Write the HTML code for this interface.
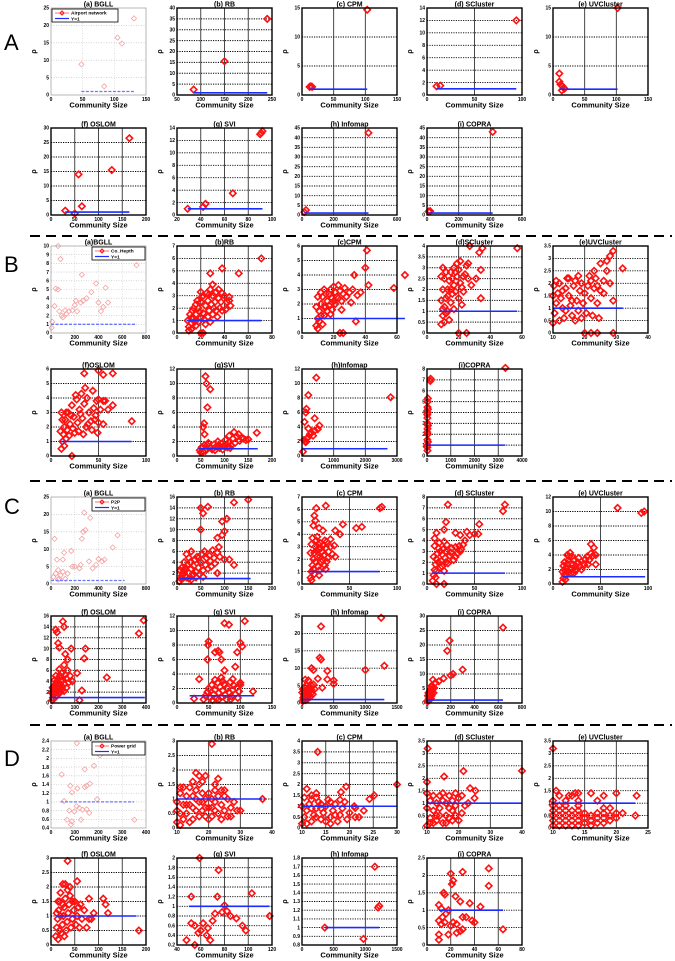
<!DOCTYPE html>
<html><head><meta charset="utf-8"><style>
html,body{margin:0;padding:0;background:#fff;}
svg{display:block;font-family:"Liberation Sans",sans-serif;}
</style></head><body>
<svg id="fig" width="675" height="961" viewBox="0 0 675 961"></svg>
<script>
// ---------- data: titles ----------
const titlesA = ["(a) BGLL","(b) RB","(c) CPM","(d) SCluster","(e) UVCluster","(f) OSLOM","(g) SVI","(h) Infomap","(i) COPRA"];
const titlesB = ["(a)BGLL","(b)RB","(c)CPM","(d)SCluster","(e)UVCluster","(f)OSLOM","(g)SVI","(h)Infomap","(i)COPRA"];
const legendNames = ["Airport network","Co_Hepth","P2P","Power grid"];
// ---------- data: points (x,y pairs) ----------
const pA1=[48,8.8,84,2.5,105,16.5,112,14.8,131,22];
const pA2=[85,2.5,150,15.5,240,35];
const pA3=[12,1.4,14,1.5,16,1.4,103,14.7];
const pA4=[10,1.4,14,1.5,94,12];
const pA5=[10,3.7,10,2.3,12,1.8,15,1.5,17,1.2,14,0.8,18,1.1,102,15];
const pA6=[30,1.5,50,0.5,58,14,65,3,128,15.5,165,26.5];
const pA7=[29,1,42,1.3,44,1.8,67,3.5,90,13,91,13.2,92,13.5];
const pA8=[15,1.5,25,2.5,420,42.5];
const pA9=[10,1.8,20,2,415,43];
const pB1=[10,1.3,5,0.6,60,10,80,8.5,40,5.1,60,5,30,3.1,70,2.5,90,2,100,1.8,120,2.6,150,2.5,180,2.6,200,3.2,210,3.7,250,3.5,260,6.7,270,3.7,300,4,340,4.7,380,5.7,400,3.5,420,2.5,440,3,460,5.2,480,3.5,720,7.8,130,2.2,220,2.5];
const pB2=[10,0.5,12,0.8,14,1.2,16,1.5,18,2,20,2.5,22,3,25,3.2,28,3.5,30,3,32,2.5,35,2.8,38,3.2,40,3,42,2.5,45,2.2,36,2,33,1.8,30,1.5,27,1.8,24,2.2,22,1.6,20,1.2,18,0.9,16,0.6,12,0.3,14,2,17,2.6,20,3.3,26,2.6,29,2.3,31,2,34,1.3,38,1.8,44,2.6,9,1,11,1.5,13,1.8,15,0.9,19,1.7,23,1.1,26,1.3,28,0.9,24,0.7,10,0.2,12,1.2,16,2.3,21,2.9,27,3.1,33,3.3,37,2.5,41,1.9,38,5.2,28,4.8,52,4.8,71,6,30,3.9,35,3.5,44,2.9,20,0,22,0];
const pB3=[9,0.5,10,1,11,1.5,12,2,13,2.5,14,1.2,15,1.8,16,2.2,17,2.7,18,3,19,2.4,20,3.2,21,2.8,22,2.5,23,3.3,24,2.9,25,2.2,26,2.7,27,3.1,28,2.5,30,2.8,9,1.8,10,2.5,11,0.8,12,1.2,13,0.6,14,1.8,15,2.7,16,1.5,17,1.9,19,1.6,21,2,10,0.3,12,2.8,14,3,18,1.3,20,2.2,23,2.4,25,1.6,31,2.1,32,3,35,2.6,37,2.8,41,5.7,40,4.5,42,3.3,33,4,58,3.1,65,4,34,0.8,24,0,26,0];
const pB4=[9,0.4,10,0.8,11,1.2,12,1.6,13,2,14,2.4,15,2.8,16,2.5,17,2.2,18,1.9,19,2.6,20,2.9,21,2.3,22,2.1,23,2.6,24,2.7,25,3.1,9,1.5,10,2,11,2.5,12,2.8,13,1,14,0.6,15,1.4,16,1.8,17,1.1,18,2.8,20,1.6,22,1.3,9,2.6,10,3,11,0.5,12,0.9,13,1.7,15,2,17,3,19,3.2,21,3.3,23,1.9,26,2.5,28,2.2,10,1.1,27,4,35,3.9,57,3.9,33,3.7,26,3.2,34,2.9,31,2.5,34,1.6,20,0,25,0];
const pB5=[10,0.4,10.5,0.8,11,1.2,11.5,1.6,12,2,12.5,1.4,13,1,13.5,0.6,14,1.8,14.5,2.2,15,1.5,15.5,1.1,16,0.7,16.5,1.9,17,2.1,17.5,1.3,18,0.9,18.5,1.7,19,2,19.5,1.2,20,1.6,20.5,0.8,21,1.9,21.5,2.3,22,1.4,22.5,0.7,23,1.8,23.5,2.2,24,1.2,10,1.5,11,2.1,12,0.5,13,1.7,14,0.9,15,2.2,16,1.3,17,0.5,18,2.3,19,0.6,10.3,1.9,25,1.7,26,2.1,24.5,0.6,29,3.3,28,3.1,25,2.8,27,2.9,32,2.6,27,2.5,23,2.5,28,2,24,1.9,26,1.6,29,1.3,22,2.1,20,0,22,0,24,0,29,0];
const pB6=[11,0.5,12,1,13,1.5,14,2,15,2.5,16,1.2,17,1.8,18,3,20,2.2,22,3.5,24,2.7,25,1.6,27,3.9,28,2.3,30,3.2,32,4.3,33,2.6,35,3.6,37,2,38,4,40,3,42,2.4,44,4.5,45,3.3,47,2.8,48,3.8,50,3.9,12,2.5,14,0.7,16,3,19,1.4,21,2.8,23,1.9,26,4.2,29,1.7,31,2.9,34,1.5,36,4.7,39,2.2,43,1.8,46,2.5,49,1.6,52,3.2,55,3.8,10,1.7,11,3,35,5.7,50,5.9,55,5.6,65,5.7,57,3.8,65,3.5,60,3.2,85,2.4,50,2.3,55,2.2,22,0];
const pB7=[48,0.8,52,1.2,55,0.6,58,1.5,62,1,66,1.8,70,1.2,74,0.9,78,1.6,82,1.3,86,2,90,1.1,94,1.7,98,1.4,102,2.2,106,1.2,110,1.9,114,1.5,118,2.4,122,1.8,126,2.7,132,2.1,136,2.5,145,2.2,50,0.5,60,0.7,64,1.5,80,0.8,88,1.5,96,0.9,104,1.6,112,1.1,60,11,62,10,70,9.2,64,6.7,57,4.5,55,4,58,3,130,3,168,3.2,120,3.3,110,2.8,140,2.4,150,2.3];
const pB8=[30,0.6,100,2,150,2.4,200,2.6,250,3,300,3.2,400,3.5,500,3.7,80,4.7,120,6,140,6.5,200,8.4,400,5.2,450,10.8,550,4.2,2800,8.1,350,2.8,200,3.8,60,2.2,120,1.9];
const pB9=[20,0.5,25,1,15,1.5,30,2,20,2.5,25,3,15,3.5,30,4,20,4.5,25,5,35,5.3,10,0.8,40,1.3,10,2.2,40,2.8,10,3.8,40,4.3,150,7.1,140,6.9,3300,8.1];
const pC1=[20,2,40,3,60,4,80,2.5,100,3.5,120,1.5,30,13,50,7,100,7,110,9,170,9.5,180,5,200,5,250,5.5,260,13,270,15,290,15.5,320,6.5,350,4.5,380,5.5,400,7.2,430,6.5,450,7,520,10.5,560,14,280,20.5,330,19,400,23,140,3,70,1.5,240,4.5,60,1.3];
const pC2=[5,0.5,8,1,10,1.5,12,2,15,2.5,18,3,20,1.2,22,3.5,25,2,28,4,30,2.8,32,1.5,35,3.3,38,4.5,40,2.2,42,5,45,3,48,1.8,50,4,52,5.5,55,2.5,58,6,60,3.5,62,4.8,65,2.8,68,5.2,70,4.2,72,3.2,75,6.2,78,4.8,80,3.8,10,3,15,4,20,5.5,25,4.8,30,6,35,1.8,40,1.2,45,4.8,55,1.3,85,5.8,88,6.8,7,2.5,12,1,18,1.5,25,1,30,0.8,50,14,55,13,65,14.2,95,11.5,105,12,120,15,150,15.5,100,9.7,50,10,85,8.5,95,9,90,5,100,4.5,110,4.5,85,2,120,3.5];
const pC3=[9,0.5,10,1,11,1.5,12,2,13,2.5,14,3,15,3.5,16,2.2,17,1.4,18,2.8,19,3.3,20,1.8,21,2.6,22,3.1,23,2.3,24,1.5,25,2.9,26,3.4,27,2.1,28,2.6,30,3,32,2.4,34,3.1,9,2.5,10,3.2,11,3.7,12,1.2,13,0.8,14,1.8,15,2.7,16,3.8,17,3.2,18,1.1,19,2.2,20,2.9,22,1.9,24,3.5,26,1.8,10,0.3,15,6.1,25,6.3,13,5.5,14,5.1,18,4.5,12,4.7,22,4.3,35,4.3,40,4,43,4.8,57,4.5,63,4.6,82,6.1,84,6.2,30,3.6,35,2.2,25,1.2,18,0.7];
const pC4=[6,0.3,7,0.8,8,1.3,9,1.8,10,2.3,11,2.8,12,3.3,13,3.8,14,1.5,15,2.1,16,2.7,17,3.2,18,1.2,19,2.4,20,3,21,3.6,22,1.9,24,2.6,26,3.3,28,2.2,30,3.4,32,2.8,34,3.5,36,3.2,38,3.6,40,4,7,2.5,8,3.5,9,0.6,10,1.2,12,2,14,3,16,1.6,18,3.9,20,2,25,2.9,30,2.5,35,3,42,4.8,45,4.5,8,4.2,22,7.3,55,5.5,80,6.7,82,7.3,54,4.6,50,4.6,18,5,20,5.7,10,4.7,35,4.5,30,4.7,10,0,18,0];
const pC5=[10,0.3,11,0.8,12,1.3,13,1.8,14,2.3,15,2.8,16,3.3,17,3.8,18,4.3,19,1.5,20,2.1,21,2.7,22,3.2,23,1.9,24,2.5,26,3,28,2.4,30,3.1,32,2.8,34,3.4,36,3.8,38,3.3,40,4.2,42,3.9,11,2.5,12,3,13,0.6,14,1.2,15,4,16,1.6,18,2,20,3.8,22,1.5,25,2,27,3.6,30,2,33,2.6,37,2.7,10,1.7,68,10.5,93,9.8,96,10,40,5.5,43,5,45,4,45,2.7];
const pC6=[5,0.5,8,1,10,1.5,12,2,15,2.5,18,3,20,3.5,22,1.2,25,4,28,2.2,30,4.5,32,2.8,35,3.5,38,5,40,2,42,4,45,5.5,48,3,50,4.2,55,3.5,60,5.2,65,4.5,70,6,75,3.8,80,5,10,3,15,4.2,20,5,25,2.8,30,1.8,35,6.2,45,2.4,55,2.2,65,2.8,90,4,3,2,7,2.8,12,0.8,20,13.5,25,13,30,11,35,10.2,50,15,55,14,60,9,85,10,70,8,55,7,145,10,140,8.2,110,5.5,130,2.3,235,4.7,370,12.8,390,15.2,120,0.5];
const pC7=[42,0.5,45,1,48,1.5,50,2,52,0.7,55,2.5,58,1.2,60,1.8,62,0.6,64,2.8,66,1.4,68,2.2,70,0.8,72,1.7,74,2.6,76,1.1,78,0.5,80,2,82,1.5,84,2.9,86,0.9,88,1.8,90,2.4,92,1.2,94,2.1,96,0.7,98,1.6,100,2.5,56,0.4,66,0.5,85,0.5,60,3.2,72,3,88,3.3,27,0.6,48,6,50,8.5,49,8,60,7,65,7.2,67,7,70,6,75,11,82,10.8,75,4.5,70,3.5,92,5,95,7,100,8.3,103,7.8,107,11.3,120,1.6,35,3.3,100,2.8];
const pC8=[10,0.5,20,1.5,30,2.5,40,3.5,50,1,60,2,70,3,80,4,90,1.2,100,2.2,110,3.2,120,4.2,130,1.8,140,2.8,150,3.8,160,4.8,5,3,15,4,25,1,35,2,45,4.5,55,0.8,65,5,75,1.6,85,2.6,95,3.6,180,5.3,200,4,170,2.5,300,22,280,13,300,12.5,150,10,180,9.5,250,7,400,9.2,400,6.8,500,6.5,500,5.5,1000,9.5,1250,24.5,1300,10.7,50,6.7,100,6.5,150,5,320,4.4];
const pC9=[5,0.5,10,1,15,1.5,20,2,25,2.5,30,3,35,3.5,40,4,45,4.5,50,5,8,2.5,12,3.5,18,1,22,3,28,4.5,32,1.5,38,2.5,42,5.5,55,3.5,60,5.2,40,6,50,8,70,7,100,7.5,140,8.5,170,18,190,21.5,200,9.5,220,10,300,11.5,640,26];
const pD1=[109,2.35,206,2.07,181,1.83,142,1.75,45,1.63,81,1.37,111,1.31,88,1.22,150,1.37,164,1.42,142,1.34,194,1.06,55,1.02,108,0.9,119,0.86,133,0.82,150,0.83,98,0.78,77,0.8,161,0.75,67,0.59,88,0.55,126,0.59,84,0.48,351,0.59];
const pD2=[10,0.2,11,0.5,12,0.8,13,1.1,14,1.4,15,0.3,16,0.6,17,0.9,18,1.2,19,0.4,20,0.7,21,1,22,1.3,23,0.5,24,0.8,25,1.1,26,0.4,27,0.7,28,0.9,10,0.9,11,1.2,12,0.3,13,0.5,14,0.8,15,1.1,16,1.3,17,0.4,18,0.6,19,1,20,1.2,21,0.4,22,0.6,23,1.1,24,0.3,25,0.6,26,1,10,0.6,12,1.4,14,0.2,16,1,18,0.9,20,0.3,22,0.9,24,1.3,11,0.1,15,0.7,17,1.5,19,0.7,21,0.7,13,0.8,27,0.4,29,0.6,21,2.9,16,1.9,17,1.8,19,1.8,15,1.6,18,1.6,23,1.7,22,1.5,25,1.3,30,0.6,37,1,11,1.4];
const pD3=[10,0.2,10.5,0.5,11,0.8,11.5,1.1,12,0.3,12.5,0.6,13,0.9,13.5,1.2,14,0.4,14.5,0.7,15,1,15.5,1.3,16,0.5,16.5,0.8,17,1.1,17.5,0.3,18,0.6,18.5,0.9,19,1.2,19.5,0.4,20,0.7,21,1,22,0.5,23,0.8,10,1,11,0.2,12,1.3,13,0.5,14,1.1,15,0.3,16,1.2,17,0.6,18,1.3,12,0.9,14,0.9,16,0.2,10.5,1.4,13,1.4,13.3,3.5,30,2,25.2,1.5,24.2,1.33,21.2,0.92,21.2,0.5,19.3,1.9,18.2,1.65,11,1.8,13,1.6,12,1.5];
const pD4=[10,0.1,11,0.4,12,0.7,13,1,14,1.3,15,0.2,16,0.5,17,0.8,18,1.1,19,1.4,20,0.3,21,0.6,22,0.9,10,0.8,11,1.1,12,0.2,13,0.5,14,0.8,15,1.1,16,0.2,17,0.4,18,0.7,19,0.5,20,1.2,10,1.4,11,0.2,12,1.3,13,0.3,14,0.5,15,1.4,16,1,17,1.3,18,0.3,19,0.9,21,1.3,23,1,25,1.2,10.2,3.2,15.4,2.07,21.5,2.29,23.6,1.6,25.3,1.5,40,2.3,10,1.85];
const pD5=[10,0.1,10,0.3,10,0.5,10,0.7,10,0.9,10,1.1,11,0.1,11,0.3,11,0.5,11,0.7,11,0.9,11,1.3,12,0.1,12,0.3,12,0.5,12,0.7,12,0.9,12,1.1,13,0.1,13,0.3,13,0.5,13,0.7,13,1.3,14,0.1,14,0.3,14,0.5,14,0.7,14,0.9,14,1.1,14,1.4,15,0.2,15,0.4,15,0.6,16,0.1,16,0.3,16,0.5,16,1.4,17,0.2,17,0.4,17,0.6,17,1.1,18,0.2,18,0.4,18,0.6,18,0.8,18,1.3,19,0.3,19,0.5,19,0.8,20,0.4,20,0.6,20,1.4,21,0.6,10.5,1.5,12.5,1.3,13.5,1.4,10,3.2,23.2,1.3,23,0.5];
const pD6=[10,0.3,12,0.6,14,0.9,16,1.2,18,1.5,20,1.8,22,0.4,24,0.7,26,1,28,1.3,30,1.6,32,0.5,34,0.8,36,1.1,38,1.4,40,1.7,42,0.6,45,0.9,48,1.2,50,1.5,52,0.7,55,1,58,1.3,60,0.6,65,0.9,70,1.2,75,0.6,80,0.9,85,0.9,90,1.1,12,1.1,15,0.2,18,0.5,20,1,25,1.4,28,0.3,35,1.9,45,1.5,62,1.4,15,1.5,35,2.9,55,2.2,25,2.1,30,2.1,40,2,80,1.6,110,1.6,115,1.4,120,1.1,185,0.5];
const pD7=[59,2,75,1.75,52,1.2,74,1.2,103,1.27,80,1.02,118,0.8,55,0.2,48,0.3,60,0.5,70,0.7,85,0.8,90,0.75,95,0.6,98,0.5,65,0.4,58,0.45,62,0.65,72,0.85,78,0.88,66,0.55,55,0.6,52,0.65,68,0.3,82,0.9];
const pD8=[360,1.0,970,0.87,1150,1.7,1200,1.23,1220,1.25];
const pD9=[20,2.05,30,2.1,52,2.2,52,1.7,22,1.85,21,1.75,14,1.5,15,1.45,24,1.4,28,1.25,36,1.2,45,1.1,10,1.15,12,1.05,18,1,30,0.8,33,0.8,38,0.7,40,0.65,10,0.7,12,0.6,15,0.65,20,0.55,22,0.65,25,0.6,28,0.4,30,0.45,25,0.35,18,0.3,10,0.3,10,0.15,64,0.45,13,0.8,16,0.9];
// ---------- data: axis ranges [x0,x1,xstep, y0,y1,ystep] ----------
const axA=[[0,150,50,0,25,5],[50,250,50,0,40,5],[0,150,50,0,15,5],[0,100,50,0,14,2],[0,150,50,0,15,5],[0,200,50,0,30,5],[20,100,20,0,14,2],[0,600,200,0,45,5],[0,600,200,0,45,5]];
const axB=[[0,800,200,0,10,1],[0,80,20,0,7,1],[0,60,20,0,6,1],[0,60,20,0,4,0.5],[10,40,10,0,3.5,0.5],[0,100,50,0,6,1],[0,200,50,0,12,2],[0,3000,1000,0,12,2],[0,4000,1000,0,8,1]];
const axC=[[0,800,200,0,25,5],[0,200,50,0,16,2],[0,100,50,0,7,1],[0,100,50,0,8,1],[0,100,50,0,12,2],[0,400,100,0,16,2],[0,150,50,0,12,2],[0,1500,500,0,25,5],[0,800,200,0,30,5]];
const axD=[[0,400,100,0.4,2.4,0.2],[10,40,10,0,3,0.5],[10,30,5,0,4,0.5],[10,40,10,0,3.5,0.5],[10,25,5,0,3.5,0.5],[0,200,50,0,3,0.5],[40,120,20,0.2,2,0.2],[0,1500,500,0.8,1.8,0.1],[0,80,20,0,2.5,0.5]];
// ---------- data: Y=1 line extents ----------
const lnA=[[48,131],[85,240],[12,103],[10,94],[10,102],[30,165],[29,92],[15,420],[10,415]];
const lnB=[[0,720],[8,71],[8,65],[8,57],[10,32],[10,85],[45,170],[0,2700],[0,3300]];
const lnC=[[0,620],[5,155],[8,82],[5,82],[10,97],[0,395],[20,122],[0,1300],[0,640]];
const lnD=[[40,350],[10,37],[10,30],[10,40],[10,23],[10,180],[50,118],[360,1220],[10,64]];
const ptsA=[pA1,pA2,pA3,pA4,pA5,pA6,pA7,pA8,pA9];
const ptsB=[pB1,pB2,pB3,pB4,pB5,pB6,pB7,pB8,pB9];
const ptsC=[pC1,pC2,pC3,pC4,pC5,pC6,pC7,pC8,pC9];
const ptsD=[pD1,pD2,pD3,pD4,pD5,pD6,pD7,pD8,pD9];

// ---------- layout ----------
const NS="http://www.w3.org/2000/svg";
const svg=document.getElementById('fig');
const COLX=[51,177,302,427,553], W=95, H=87;
const panels=[
 {L:"A",rows:[8,128],sep:0,ly:50,titles:titlesA,ax:axA,ln:lnA,pts:ptsA,leg:0,legLeft:true},
 {L:"B",rows:[246,369],sep:236,ly:272,titles:titlesB,ax:axB,ln:lnB,pts:ptsB,leg:1},
 {L:"C",rows:[497,616],sep:481,ly:514,titles:titlesA,ax:axC,ln:lnC,pts:ptsC,leg:2},
 {L:"D",rows:[741,858],sep:725,ly:766,titles:titlesA,ax:axD,ln:lnD,pts:ptsD,leg:3}];
function mk(tag,attrs,parent,text){const e=document.createElementNS(NS,tag);for(const k in attrs)e.setAttribute(k,attrs[k]);if(text!==undefined)e.textContent=text;(parent||svg).appendChild(e);return e;}
function fmt(v){return String(Math.round(v*100)/100);}
function diamond(g,x,y,r,stroke,sw){return mk('path',{d:`M${x} ${y-r}L${x+r} ${y}L${x} ${y+r}L${x-r} ${y}Z`,fill:'none',stroke:stroke,'stroke-width':sw},g);}

panels.forEach((P,pi)=>{
  const lt=mk('text',{x:4,y:P.ly,'font-size':22,fill:'#000'},svg,P.L);
  
  
  if(pi>0){
    const dl=mk('line',{x1:30,x2:672,y1:P.sep,y2:P.sep,stroke:'#000','stroke-width':2,'stroke-dasharray':'10,6'});
    
    
  }
  for(let i=0;i<9;i++){
    const X=COLX[i<5?i:i-5], Y=P.rows[i<5?0:1];
    const [x0,x1,xs,y0,y1,ys]=P.ax[i];
    const sx=v=>X+(v-x0)/(x1-x0)*W, sy=v=>Y+H-(v-y0)/(y1-y0)*H;
    const bg=(i===0);
    const g=mk('g',{});
    
    
    mk('rect',{x:X,y:Y,width:W,height:H,fill:'#fff'},g);
    const nx=Math.round((x1-x0)/xs), ny=Math.round((y1-y0)/ys);
    for(let k=0;k<=nx;k++){const v=x0+k*xs, px=sx(v);
      if(k>0&&k<nx) mk('line',{x1:px,x2:px,y1:Y,y2:Y+H,stroke:bg?'#ccc':'#333','stroke-width':bg?0.6:0.9,'stroke-dasharray':bg?'1,1.5':'none'},g);
      const t=mk('text',{x:px,y:Y+H+6,'font-size':5,'font-weight':'bold','text-anchor':'middle'},g,fmt(v));
      
      }
    for(let k=0;k<=ny;k++){const v=y0+k*ys, py=sy(v);
      if(k>0&&k<ny) mk('line',{x1:X,x2:X+W,y1:py,y2:py,stroke:bg?'#bbb':'#000','stroke-width':bg?0.6:0.9,'stroke-dasharray':bg?'1,1.5':'1.2,1.2'},g);
      const t=mk('text',{x:X-2,y:py+1.7,'font-size':5,'font-weight':'bold','text-anchor':'end'},g,fmt(v));
      
      }
    const pts=P.pts[i];
    for(let k=0;k<pts.length;k+=2){
      const d=diamond(g,sx(pts[k]),sy(pts[k+1]),bg?2.6:3.2,bg?'#f4a4a4':'#ff1010',bg?0.8:1.6);
      
      
    }
    const [l0,l1]=P.ln[i];
    const bl=mk('line',{x1:sx(l0),x2:sx(l1),y1:sy(1),y2:sy(1),stroke:bg?'#6a78ff':'#1a2cff','stroke-width':bg?1.3:1.6,'stroke-dasharray':bg?'3,1.5':'none'},g);
    
    
    mk('rect',{x:X,y:Y,width:W,height:H,fill:'none',stroke:bg?'#999':'#000','stroke-width':bg?0.7:1.4},g);
    const tt=mk('text',{x:X+W/2,y:Y-1.5,'font-size':7,'font-weight':'bold','text-anchor':'middle'},g,P.titles[i]);
    
    
    const xl=mk('text',{x:X+W/2,y:Y+H+12.5,'font-size':7.5,'font-weight':'bold','text-anchor':'middle'},g,'Community Size');
    
    
    const yl=mk('text',{x:X-15,y:Y+H/2,'font-size':7,'font-weight':'bold','text-anchor':'middle',transform:`rotate(-90 ${X-15} ${Y+H/2})`},g,'ρ');
    
    
    if(bg){
      const lx=P.legLeft?X+1:X+W-54, lw=P.legLeft?66:53;
      const lg=mk('g',{},g);
      
      
      mk('rect',{x:lx,y:Y+1,width:lw,height:13,fill:'#fff',stroke:'#000','stroke-width':0.8},lg);
      mk('line',{x1:lx+3,x2:lx+17,y1:Y+5,y2:Y+5,stroke:'#ff1010','stroke-width':0.6},lg);
      diamond(lg,lx+10,Y+5,2,'#ff1010',1);
      mk('line',{x1:lx+3,x2:lx+17,y1:Y+10.5,y2:Y+10.5,stroke:'#1a2cff','stroke-width':1.2},lg);
      mk('text',{x:lx+19,y:Y+6.7,'font-size':4.8,'font-weight':'bold'},lg,legendNames[P.leg]);
      mk('text',{x:lx+19,y:Y+12.3,'font-size':4.8,'font-weight':'bold'},lg,'Y=1');
    }
  }
});
</script>
</body></html>
